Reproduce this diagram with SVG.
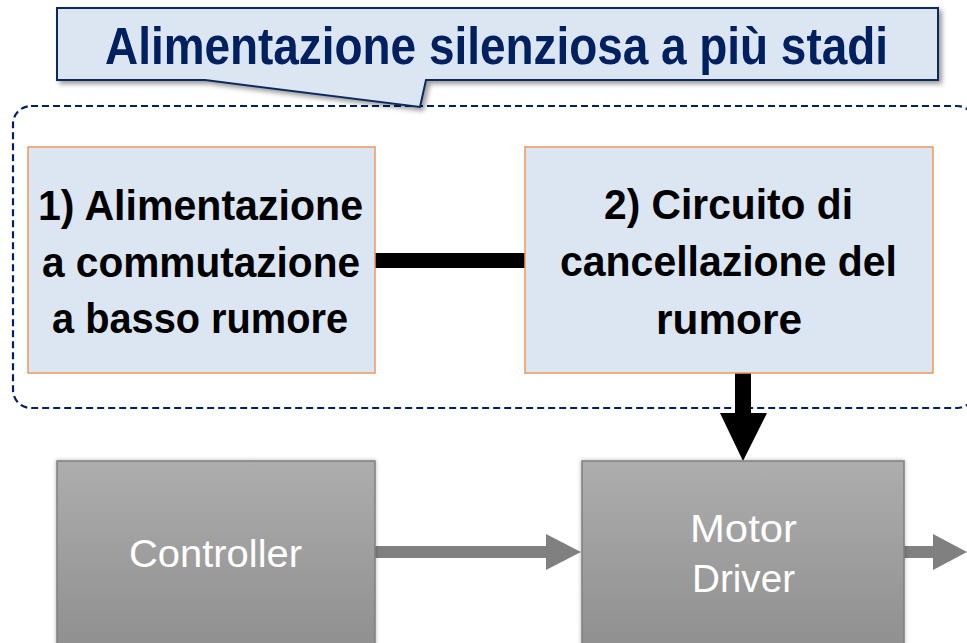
<svg xmlns="http://www.w3.org/2000/svg" width="967" height="643" viewBox="0 0 967 643">
<defs>
<style>
.bold{font-family:"Liberation Sans",Arial,sans-serif;font-weight:bold;font-size:42px;fill:#000;text-anchor:middle}
.title{font-family:"Liberation Sans",Arial,sans-serif;font-weight:bold;font-size:51px;fill:#002060;text-anchor:middle}
.light{font-family:"Liberation Sans",Arial,sans-serif;font-size:39px;fill:#ffffff;text-anchor:middle}
.stage{fill:#dce6f2;stroke:#f0975a;stroke-width:1.5}
.gray{fill:url(#gg);stroke:#7f7f7f;stroke-width:1.5}
</style>
<linearGradient id="gg" x1="0" y1="0" x2="0" y2="1">
<stop offset="0" stop-color="#adadad"/>
<stop offset="1" stop-color="#8f8f8f"/>
</linearGradient>
<filter id="sh" x="-10%" y="-10%" width="120%" height="140%">
<feDropShadow dx="3" dy="3" stdDeviation="2.5" flood-color="#000" flood-opacity="0.4"/>
</filter>
<filter id="sh2" x="-10%" y="-10%" width="120%" height="120%">
<feDropShadow dx="0" dy="0" stdDeviation="2" flood-color="#000" flood-opacity="0.3"/>
</filter>
</defs>
<rect width="967" height="643" fill="#ffffff"/>

<g id="group-frame">
<rect x="13" y="106" width="962" height="302" rx="18" ry="18" fill="none" stroke="#002060" stroke-width="2.2" stroke-dasharray="7 4"/>
</g>

<g id="callout">
<path d="M57,8 H938 V80 H426 L420,107 L205,80 H57 Z" fill="#dce6f2" stroke="#0b2a5e" stroke-width="2" stroke-linejoin="miter" filter="url(#sh)"/>
<text class="title" x="496.5" y="64" textLength="783" lengthAdjust="spacingAndGlyphs">Alimentazione silenziosa a più stadi</text>
</g>

<g id="connectors">
<rect x="375" y="253" width="150" height="15" fill="#000"/>
<path d="M735,373 H751 V413 H767 L743,461 L720,413 H735 Z" fill="#000"/>
<path d="M375,546 H546 V534 L581,552 L546,570 V558 H375 Z" fill="#808080"/>
<path d="M904,546 H933 V534 L967,552 L933,570 V558 H904 Z" fill="#808080"/>
</g>

<g id="node-stage1">
<rect class="stage" x="28" y="147" width="347" height="226"/>
<text class="bold" x="200.5" y="220" textLength="325" lengthAdjust="spacingAndGlyphs">1) Alimentazione</text>
<text class="bold" x="201" y="277" textLength="318" lengthAdjust="spacingAndGlyphs">a commutazione</text>
<text class="bold" x="200" y="333" textLength="296" lengthAdjust="spacingAndGlyphs">a basso rumore</text>
</g>

<g id="node-stage2">
<rect class="stage" x="525" y="147" width="408" height="226"/>
<text class="bold" x="728.5" y="219" textLength="249" lengthAdjust="spacingAndGlyphs">2) Circuito di</text>
<text class="bold" x="728.5" y="276" textLength="337" lengthAdjust="spacingAndGlyphs">cancellazione del</text>
<text class="bold" x="729" y="334" textLength="146" lengthAdjust="spacingAndGlyphs">rumore</text>
</g>

<g id="node-controller">
<rect class="gray" x="57" y="461" width="318" height="190" filter="url(#sh2)"/>
<text class="light" x="215.5" y="567" textLength="173" lengthAdjust="spacingAndGlyphs">Controller</text>
</g>

<g id="node-motor-driver">
<rect class="gray" x="582" y="461" width="322" height="190" filter="url(#sh2)"/>
<text class="light" x="743.5" y="542" textLength="107" lengthAdjust="spacingAndGlyphs">Motor</text>
<text class="light" x="743.5" y="592" textLength="103" lengthAdjust="spacingAndGlyphs">Driver</text>
</g>
</svg>
